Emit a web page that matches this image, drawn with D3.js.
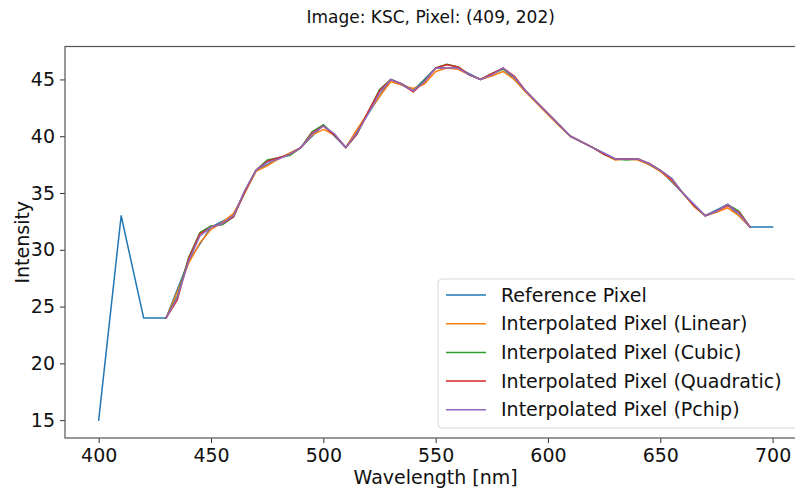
<!DOCTYPE html>
<html>
<head>
<meta charset="utf-8">
<script src="https://cdn.jsdelivr.net/npm/d3@7"></script>
<style>
  html, body { margin: 0; padding: 0; background: #fff; }
  svg { display: block; font-family: "DejaVu Sans", sans-serif; }
</style>
</head>
<body>
<div id="chart"></div>
<script>
// reference band values (10 nm steps)
const refWavelengths = [400, 410, 420, 430, 440, 450, 460, 470, 480, 490, 500, 510, 520, 530, 540, 550,
  560, 570, 580, 590, 600, 610, 620, 630, 640, 650, 660, 670, 680, 690, 700];
const refValues = [15, 33, 24, 24, 29, 32, 33, 37, 38, 39, 41, 39, 42, 45, 44, 46,
  46, 45, 46, 44, 42, 40, 39, 38, 38, 37, 35, 33, 34, 32, 32];

// interpolated curves (5 nm steps, 430..690)
const interpWavelengths = [430, 435, 440, 445, 450, 455, 460, 465, 470, 475, 480, 485, 490, 495, 500, 505,
  510, 515, 520, 525, 530, 535, 540, 545, 550, 555, 560, 565, 570, 575, 580, 585, 590, 595, 600, 605,
  610, 615, 620, 625, 630, 635, 640, 645, 650, 655, 660, 665, 670, 675, 680, 685, 690];
const linearValues = [24, 26.3, 28.8, 30.6, 31.8, 32.4, 33.2, 35.0, 36.9, 37.4, 38.0, 38.5, 39.0, 40.1, 40.6, 40.1,
  39.0, 40.6, 42.1, 43.5, 44.8, 44.5, 44.2, 44.6, 45.7, 46.0, 45.9, 45.4, 45.0, 45.3, 45.7, 45.0, 43.9, 42.9, 41.9, 40.9,
  40.0, 39.5, 39.0, 38.4, 37.9, 38.0, 37.9, 37.5, 36.9, 36.1, 35.0, 33.8, 33.0, 33.3, 33.7, 33.0, 32.0];
const cubicValues = [24, 25.9, 29.3, 31.5, 32.1, 32.2, 32.9, 35.2, 37.0, 37.9, 38.1, 38.3, 39.0, 40.4, 41.0, 40.1,
  39.0, 40.2, 42.1, 44.1, 45.0, 44.6, 44.0, 44.9, 46.0, 46.35, 46.1, 45.4, 45.0, 45.5, 45.9, 45.2, 44.0, 43.0, 42.0, 41.0,
  40.0, 39.5, 39.0, 38.4, 38.0, 37.9, 38.0, 37.6, 37.0, 36.3, 35.0, 33.9, 33.0, 33.4, 34.0, 33.4, 32.0];
const quadraticValues = [24, 25.6, 29.2, 31.4, 32.0, 32.3, 32.9, 35.1, 37.0, 37.8, 38.1, 38.4, 39.0, 40.3, 40.9, 40.1,
  39.0, 40.2, 42.2, 44.0, 45.0, 44.6, 43.9, 44.8, 46.0, 46.3, 46.1, 45.4, 45.0, 45.5, 46.0, 45.3, 44.0, 43.0, 42.0, 41.0,
  40.0, 39.5, 39.0, 38.4, 38.0, 38.0, 38.0, 37.6, 37.0, 36.2, 35.0, 33.9, 33.0, 33.4, 33.9, 33.3, 32.0];
const pchipValues = [24, 25.8, 29.0, 31.2, 32.0, 32.3, 33.0, 35.2, 37.0, 37.7, 38.0, 38.4, 39.0, 40.2, 40.9, 40.2,
  39.0, 40.3, 42.0, 43.8, 45.0, 44.6, 44.0, 44.8, 46.0, 46.0, 46.0, 45.4, 45.0, 45.4, 46.0, 45.2, 44.0, 43.0, 42.0, 41.0,
  40.0, 39.5, 39.0, 38.5, 38.0, 38.0, 38.0, 37.6, 37.0, 36.3, 35.0, 34.0, 33.0, 33.4, 34.0, 33.2, 32.0];

const xTicks = [400, 450, 500, 550, 600, 650, 700];
const yTicks = [15, 20, 25, 30, 35, 40, 45];

const seriesNames = ["Reference Pixel", "Interpolated Pixel (Linear)", "Interpolated Pixel (Cubic)",
  "Interpolated Pixel (Quadratic)", "Interpolated Pixel (Pchip)"];
const seriesColors = ["#1f77b4", "#ff7f0e", "#2ca02c", "#d62728", "#9467bd"];

const series = [
  { x: refWavelengths, y: refValues },
  { x: interpWavelengths, y: linearValues },
  { x: interpWavelengths, y: cubicValues },
  { x: interpWavelengths, y: quadraticValues },
  { x: interpWavelengths, y: pchipValues }
];

const width = 795, height = 490;
const plot = { left: 65, right: 806.3, top: 46.5, bottom: 438 };

const svg = d3.select("#chart").append("svg")
  .attr("width", width)
  .attr("height", height);

const x = d3.scaleLinear().domain([385, 715]).range([plot.left, plot.right]);
const y = d3.scaleLinear().domain([13.43, 47.9]).range([plot.bottom, plot.top]);

// lines
const line = d3.line()
  .x(d => x(d[0]))
  .y(d => y(d[1]));

series.forEach((s, i) => {
  svg.append("path")
    .datum(s.x.map((w, j) => [w, s.y[j]]))
    .attr("fill", "none")
    .attr("stroke", seriesColors[i])
    .attr("stroke-width", 1.5)
    .attr("stroke-linejoin", "round")
    .attr("stroke-linecap", "square")
    .attr("d", line);
});

// axes
const xAxis = svg.append("g")
  .attr("transform", `translate(0,${plot.bottom})`)
  .call(d3.axisBottom(x).tickValues(xTicks).tickSize(5).tickPadding(4));
const yAxis = svg.append("g")
  .attr("transform", `translate(${plot.left},0)`)
  .call(d3.axisLeft(y).tickValues(yTicks).tickSize(5).tickPadding(5));

[xAxis, yAxis].forEach(g => {
  g.select(".domain").remove();
  g.selectAll(".tick line").attr("stroke", "#333").attr("stroke-width", 1);
  g.selectAll(".tick text")
    .attr("fill", "#111")
    .style("font-size", "19px")
    .style("font-family", "DejaVu Sans, sans-serif");
});
xAxis.selectAll(".tick text").attr("dy", "0.8em");

// spines
svg.append("rect")
  .attr("x", plot.left)
  .attr("y", plot.top)
  .attr("width", plot.right - plot.left)
  .attr("height", plot.bottom - plot.top)
  .attr("fill", "none")
  .attr("stroke", "#555")
  .attr("stroke-width", 1.2);

// title and labels
svg.append("text")
  .attr("x", (plot.left + plot.right) / 2 - 5)
  .attr("y", 23)
  .attr("text-anchor", "middle")
  .style("font-size", "17px")
  .attr("fill", "#111")
  .text("Image: KSC, Pixel: (409, 202)");

svg.append("text")
  .attr("x", (plot.left + plot.right) / 2)
  .attr("y", 484)
  .attr("text-anchor", "middle")
  .style("font-size", "19px")
  .attr("fill", "#111")
  .text("Wavelength [nm]");

svg.append("text")
  .attr("transform", `translate(29,${(plot.top + plot.bottom) / 2}) rotate(-90)`)
  .attr("text-anchor", "middle")
  .style("font-size", "19px")
  .attr("fill", "#111")
  .text("Intensity");

// legend
const legend = svg.append("g").attr("transform", "translate(438,279)");
legend.append("rect")
  .attr("width", 362)
  .attr("height", 149)
  .attr("rx", 4)
  .attr("fill", "#fff")
  .attr("fill-opacity", 0.8)
  .attr("stroke", "#d9d9d9")
  .attr("stroke-width", 1);

seriesNames.forEach((name, i) => {
  const row = legend.append("g").attr("transform", `translate(0,${16 + i * 28.7})`);
  row.append("line")
    .attr("x1", 8).attr("x2", 48)
    .attr("stroke", seriesColors[i])
    .attr("stroke-width", 1.5);
  row.append("text")
    .attr("x", 63)
    .attr("dy", "0.35em")
    .style("font-size", "19px")
    .attr("fill", "#111")
    .text(name);
});
</script>
</body>
</html>
